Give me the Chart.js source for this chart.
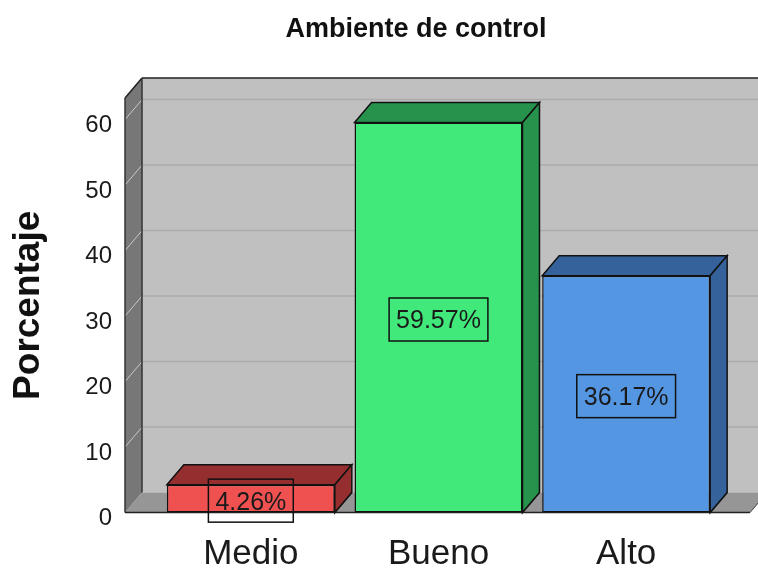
<!DOCTYPE html>
<html><head><meta charset="utf-8">
<script src="https://cdn.jsdelivr.net/npm/chart.js@4/dist/chart.umd.min.js"></script>
<style>html,body{margin:0;padding:0;background:#fff}#wrap{width:758px;height:572px}</style>
</head><body><div id="wrap"><canvas id="c" width="758" height="572"></canvas></div>
<script>
const chartTitle = 'Ambiente de control';
const yAxisTitle = 'Porcentaje';
const categories = ['Medio', 'Bueno', 'Alto'];
const percentages = [4.26, 59.57, 36.17];
const valueLabels = ['4.26%', '59.57%', '36.17%'];
const yTickValues = [0, 10, 20, 30, 40, 50, 60];
const frontColors = ['#ef5151', '#41e97b', '#5496e2'];
const sideColors = ['#952f2f', '#27924c', '#35629a'];

const DX = 17, DY = 20, EXT_L = 32, EXT_R = 30;
const FONT = '"Liberation Sans", Arial, sans-serif';

function poly(ctx, pts, fill, stroke, lw) {
  ctx.beginPath();
  ctx.moveTo(pts[0][0], pts[0][1]);
  for (let i = 1; i < pts.length; i++) ctx.lineTo(pts[i][0], pts[i][1]);
  ctx.closePath();
  if (fill) { ctx.fillStyle = fill; ctx.fill(); }
  if (stroke) { ctx.strokeStyle = stroke; ctx.lineWidth = lw || 1; ctx.stroke(); }
}
function line(ctx, x1, y1, x2, y2, color, lw) {
  ctx.beginPath(); ctx.moveTo(x1, y1); ctx.lineTo(x2, y2);
  ctx.strokeStyle = color; ctx.lineWidth = lw; ctx.stroke();
}

const box3d = {
  id: 'box3d',
  beforeDatasetsDraw(chart) {
    const ctx = chart.ctx, ca = chart.chartArea, ys = chart.scales.y;
    const L = ca.left - EXT_L, R = ca.right + EXT_R, T = ca.top, B = ca.bottom;
    ctx.save();
    ctx.fillStyle = '#c0c0c0';
    ctx.fillRect(L + DX, T - DY, R - L, B - T);
    yTickValues.forEach(v => {
      if (v === 0) return;
      const py = ys.getPixelForValue(v);
      line(ctx, L + DX, py - DY, R + DX, py - DY, '#acacac', 1.5);
    });
    poly(ctx, [[L, B], [R, B], [R + DX, B - DY], [L + DX, B - DY]], '#969696');
    poly(ctx, [[L, T], [L + DX, T - DY], [L + DX, B - DY], [L, B]], '#777777');
    yTickValues.forEach(v => {
      if (v === 0) return;
      const py = ys.getPixelForValue(v);
      line(ctx, L, py, L + DX, py - DY, '#c8c8c8', 1);
    });
    line(ctx, L + DX, T - DY, R + DX, T - DY, '#222', 1.5);
    line(ctx, L, T, L + DX, T - DY, '#222', 1.5);
    line(ctx, L + DX, T - DY, L + DX, B - DY, '#333', 1.5);
    line(ctx, L, T, L, B, '#333', 1.5);
    line(ctx, L, B, R, B, '#222', 1.5);
    line(ctx, R, B, R + DX, B - DY, '#444', 1);
    ctx.restore();
  },
  afterDatasetsDraw(chart) {
    const ctx = chart.ctx;
    const meta = chart.getDatasetMeta(0);
    ctx.save();
    meta.data.forEach((bar, i) => {
      const p = bar.getProps(['x', 'y', 'base', 'width'], true);
      const x1 = p.x - p.width / 2, x2 = p.x + p.width / 2;
      poly(ctx, [[x1, p.y], [x2, p.y], [x2 + DX, p.y - DY], [x1 + DX, p.y - DY]], sideColors[i], '#111', 1.5);
      poly(ctx, [[x2, p.y], [x2 + DX, p.y - DY], [x2 + DX, p.base - DY], [x2, p.base]], sideColors[i], '#111', 1.5);
    });
    ctx.font = '25px ' + FONT;
    ctx.textAlign = 'center';
    ctx.textBaseline = 'middle';
    meta.data.forEach((bar, i) => {
      const p = bar.getProps(['x', 'y', 'base'], true);
      const cy = (p.y + p.base) / 2 + 2;
      const w = ctx.measureText(valueLabels[i]).width + 14;
      ctx.strokeStyle = '#111'; ctx.lineWidth = 1.5;
      ctx.strokeRect(p.x - w / 2, cy - 21.5, w, 43);
      ctx.fillStyle = '#1a1a1a';
      ctx.fillText(valueLabels[i], p.x, cy + 2);
    });
    ctx.restore();
  },
  afterDraw(chart) {
    const ctx = chart.ctx;
    ctx.save();
    ctx.font = 'bold 27px ' + FONT;
    ctx.fillStyle = '#111';
    ctx.textAlign = 'center';
    ctx.textBaseline = 'alphabetic';
    ctx.fillText(chartTitle, 416, 37);
    ctx.restore();
  }
};

new Chart(document.getElementById('c'), {
  type: 'bar',
  data: {
    labels: categories,
    datasets: [{
      data: percentages,
      backgroundColor: frontColors,
      borderColor: '#111',
      borderWidth: 1.5,
      borderSkipped: false,
      barPercentage: 0.895,
      categoryPercentage: 1
    }]
  },
  options: {
    responsive: false,
    devicePixelRatio: 1,
    animation: false,
    layout: { padding: { top: 98, right: 38, bottom: 0, left: 0 } },
    plugins: { legend: { display: false }, tooltip: { enabled: false }, title: { display: false } },
    scales: {
      x: {
        grid: { display: false, drawTicks: false },
        border: { display: false },
        ticks: { font: { family: FONT, size: 35 }, color: '#1a1a1a', padding: 21 },
        afterFit(s) { s.height = 56; }
      },
      y: {
        min: 0,
        max: 63.3,
        grid: { display: false, drawTicks: false },
        border: { display: false },
        afterBuildTicks(s) { s.ticks = yTickValues.map(v => ({ value: v })); },
        ticks: { autoSkip: false, font: { family: FONT, size: 24 }, color: '#1a1a1a', padding: 45, labelOffset: 6 },
        title: { display: true, text: yAxisTitle, font: { family: FONT, size: 37, weight: 'bold' }, color: '#111', padding: { top: 7, bottom: 0 } },
        afterFit(s) { s.width = 157; }
      }
    }
  },
  plugins: [box3d]
});
</script>
</body></html>
